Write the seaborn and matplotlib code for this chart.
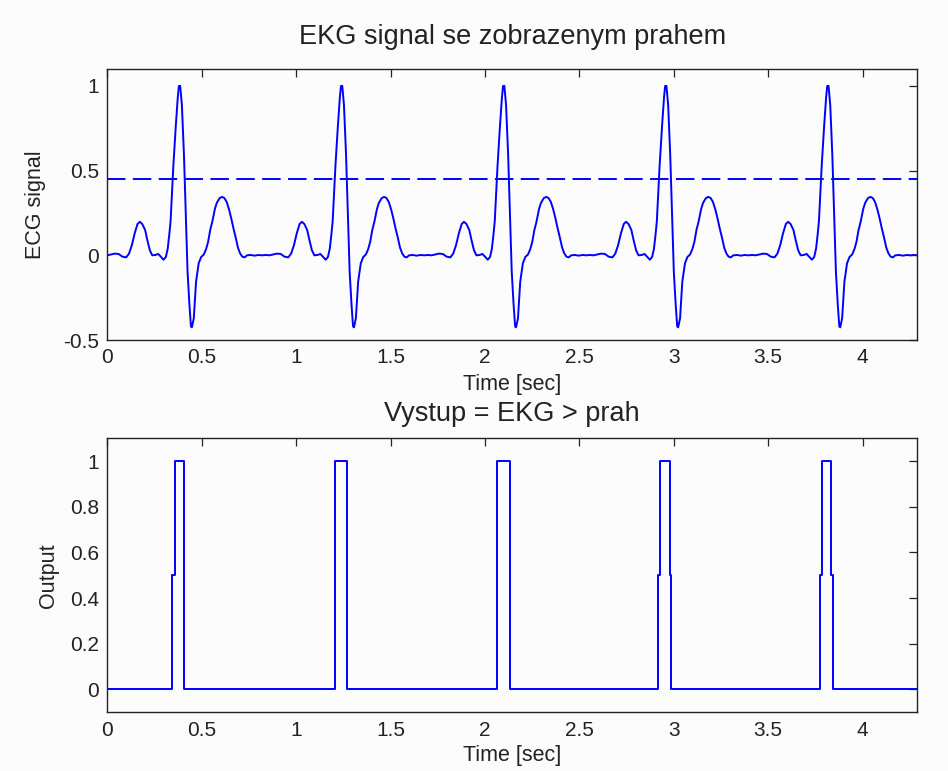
import numpy as np
import pandas as pd
import matplotlib
matplotlib.use("Agg")
import matplotlib.pyplot as plt
from matplotlib.ticker import FuncFormatter
import seaborn as sns

# ---------------- data ----------------
# one heartbeat, time relative to beat start [s], amplitude
beat_time = [0.000, 0.020, 0.040, 0.060, 0.080, 0.100, 0.115, 0.130, 0.145, 0.160,
             0.172, 0.185, 0.200, 0.212, 0.225, 0.238, 0.255, 0.270, 0.285, 0.298,
             0.310, 0.320, 0.328, 0.335, 0.341, 0.350, 0.363, 0.373, 0.379, 0.386,
             0.395, 0.406, 0.416, 0.425, 0.435, 0.443, 0.448, 0.458, 0.470, 0.484,
             0.497, 0.511, 0.523, 0.534, 0.545, 0.556, 0.570, 0.580, 0.595, 0.608,
             0.620, 0.632, 0.645, 0.656, 0.668, 0.681, 0.692, 0.703, 0.715, 0.727,
             0.740, 0.760, 0.780, 0.800, 0.820, 0.840]
beat_value = [0.000, 0.005, 0.010, 0.008, -0.008, -0.012, 0.010, 0.060, 0.130, 0.185,
              0.198, 0.185, 0.150, 0.090, 0.030, 0.000, 0.002, 0.008, -0.010, -0.026,
              -0.010, 0.040, 0.120, 0.200, 0.336, 0.533, 0.769, 0.930, 1.000, 1.000,
              0.887, 0.592, 0.238, -0.097, -0.293, -0.420, -0.425, -0.372, -0.156, -0.047,
              -0.010, 0.005, 0.036, 0.080, 0.150, 0.198, 0.275, 0.310, 0.338, 0.345,
              0.338, 0.316, 0.270, 0.220, 0.160, 0.100, 0.045, 0.012, -0.008, -0.012,
              0.000, 0.002, -0.002, 0.002, 0.000, 0.002]
beat_onsets = [0.0, 0.8585, 1.717, 2.5755, 3.434]
signal_end = [4.29, 0.0]          # last sample (time, value)

threshold = 0.45                   # prah

# output of comparison EKG > prah (time, value)
out_time = [0.0,
            0.344, 0.344, 0.357, 0.357, 0.408, 0.408,
            1.206, 1.206, 1.268, 1.268,
            2.066, 2.066, 2.132, 2.132,
            2.918, 2.918, 2.925, 2.925, 2.978, 2.978, 2.987, 2.987,
            3.774, 3.774, 3.783, 3.783, 3.834, 3.834, 3.843, 3.843,
            4.29]
out_value = [0,
             0, 0.5, 0.5, 1, 1, 0,
             0, 1, 1, 0,
             0, 1, 1, 0,
             0, 0.5, 0.5, 1, 1, 0.5, 0.5, 0,
             0, 0.5, 0.5, 1, 1, 0.5, 0.5, 0,
             0]

x_ticks = [0, 0.5, 1, 1.5, 2, 2.5, 3, 3.5, 4]
top_y_ticks = [-0.5, 0, 0.5, 1]
bottom_y_ticks = [0, 0.2, 0.4, 0.6, 0.8, 1]

title_top = "EKG signal se zobrazenym prahem"
title_bottom = "Vystup = EKG > prah"
xlabel = "Time [sec]"
ylabel_top = "ECG signal"
ylabel_bottom = "Output"

# ---------------- build tables ----------------
ecg_t, ecg_v = [], []
for onset in beat_onsets:
    for t, v in zip(beat_time, beat_value):
        ecg_t.append(onset + t)
        ecg_v.append(v)
ecg_t.append(signal_end[0])
ecg_v.append(signal_end[1])
ecg = pd.DataFrame({"time": ecg_t, "ecg": ecg_v})
thr = pd.DataFrame({"time": [0.0, signal_end[0]], "prah": [threshold, threshold]})
out = pd.DataFrame({"time": out_time, "output": out_value})

# ---------------- style ----------------
sns.set_theme(style="white")
plt.rcParams["font.family"] = ["Liberation Sans", "DejaVu Sans"]
plt.rcParams["axes.unicode_minus"] = False
plt.rcParams.update({
    "xtick.direction": "in", "ytick.direction": "in",
    "xtick.top": True, "ytick.right": True,
    "xtick.major.size": 6, "ytick.major.size": 6,
    "xtick.major.width": 0.9, "ytick.major.width": 0.9,
    "axes.edgecolor": "#222222", "axes.linewidth": 1.0,
    "xtick.color": "#222222", "ytick.color": "#222222",
    "text.color": "#222222", "axes.labelcolor": "#222222",
})

fig = plt.figure(figsize=(9.48, 7.71), dpi=100, facecolor="#fcfcfc")
ax1 = fig.add_axes([0.1132, 0.5590, 0.8544, 0.3515])
ax2 = fig.add_axes([0.1132, 0.0761, 0.8544, 0.3554])

fmt = FuncFormatter(lambda v, p: "%g" % v)
tick_fs = 15
label_fs = 15.5

# top: ECG with threshold
sns.lineplot(data=ecg, x="time", y="ecg", ax=ax1, color="#0000ff", linewidth=1.4,
             estimator=None, sort=False)
sns.lineplot(data=thr, x="time", y="prah", ax=ax1, color="#0000ff", linewidth=1.4,
             estimator=None, sort=False, linestyle=(0, (9.5, 3.8)))
ax1.set_xlim(0, 4.29)
ax1.set_ylim(-0.5, 1.1)
ax1.set_yticks(top_y_ticks)
ax1.set_title(title_top, fontsize=19.5, pad=18)
ax1.set_ylabel(ylabel_top, fontsize=label_fs)
ax1.yaxis.set_label_coords(-0.0757, 0.5)

# bottom: thresholded output
sns.lineplot(data=out, x="time", y="output", ax=ax2, color="#0000ff", linewidth=1.4,
             estimator=None, sort=False)
ax2.set_xlim(0, 4.29)
ax2.set_ylim(-0.1, 1.1)
ax2.set_yticks(bottom_y_ticks)
ax2.set_title(title_bottom, fontsize=19.5, pad=12.5)
ax2.set_ylabel(ylabel_bottom, fontsize=label_fs)
ax2.yaxis.set_label_coords(-0.0597, 0.5)

for ax in (ax1, ax2):
    ax.set_facecolor("#fcfcfc")
    ax.set_xticks(x_ticks)
    ax.xaxis.set_major_formatter(fmt)
    ax.yaxis.set_major_formatter(fmt)
    ax.tick_params(labelsize=tick_fs, pad=6)
    ax.set_xlabel(xlabel, fontsize=label_fs)
    for s in ax.spines.values():
        s.set_visible(True)

ax1.xaxis.set_label_coords(0.5, -0.1255)
ax2.xaxis.set_label_coords(0.5, -0.119)

fig.savefig("out.png", dpi=100, facecolor=fig.get_facecolor())
